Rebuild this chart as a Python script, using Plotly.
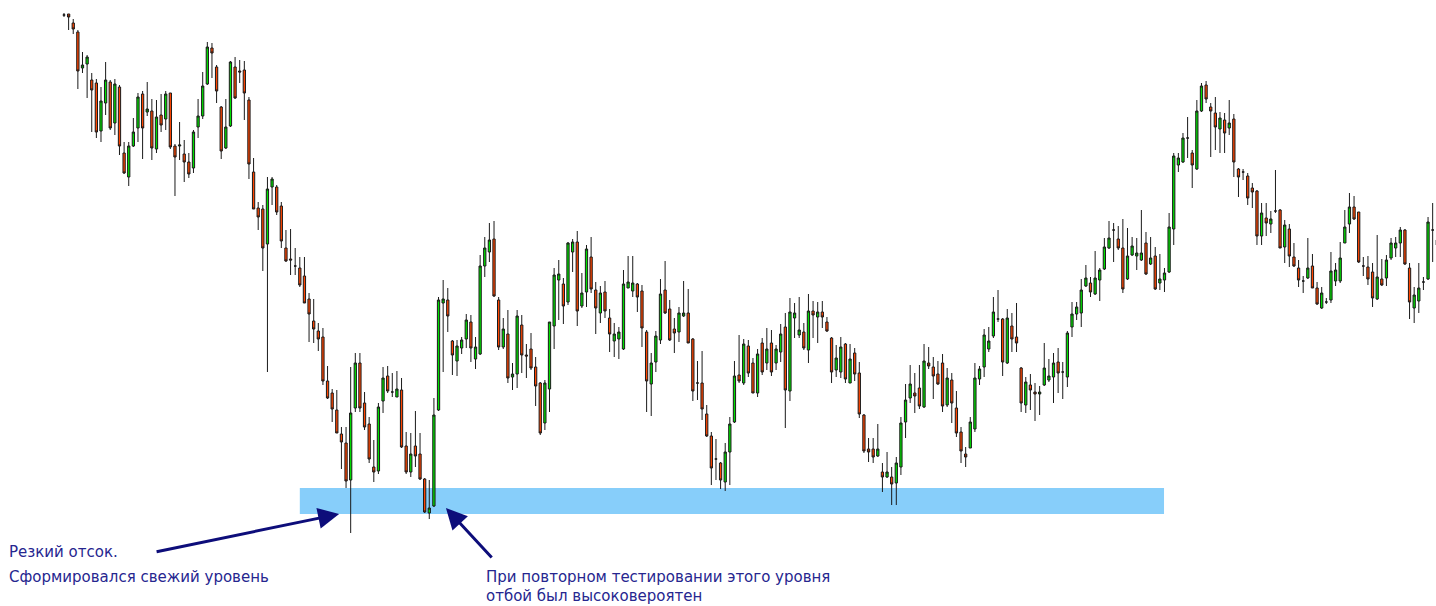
import plotly.graph_objects as go

# ---- candle data (price units, one value per bar) ----
open_ = [
    585, 586, 577, 568, 532, 536, 520, 517, 469, 497,
    518, 477, 513, 447, 423, 454, 472, 506, 488, 489,
    451, 485, 481, 507, 454, 454, 446, 438, 432, 473,
    484, 516, 552, 533, 493, 452, 474, 533, 529, 530,
    500, 428, 392, 391, 356, 413, 413, 394, 352, 341,
    334, 332, 324, 301, 279, 269, 263, 219, 207, 190,
    166, 157, 120, 192, 237, 197, 176, 133, 129, 199,
    224, 208, 203, 210, 154, 128, 154, 146, 121, 87,
    94, 190, 297, 300, 259, 239, 252, 261, 278, 241,
    246, 334, 348, 361, 300, 253, 266, 223, 226, 275,
    245, 251, 233, 217, 177, 211, 274, 320, 316, 298,
    348, 358, 294, 308, 343, 310, 287, 308, 282, 259,
    261, 251, 312, 309, 316, 309, 268, 216, 238, 260,
    310, 291, 271, 268, 284, 287, 261, 217, 217, 186,
    164, 141, 137, 118, 148, 178, 225, 217, 254, 237,
    207, 257, 237, 257, 237, 248, 273, 209, 282, 265,
    268, 250, 289, 283, 288, 278, 262, 230, 228, 256,
    217, 247, 227, 185, 151, 151, 144, 128, 123, 123,
    117, 133, 178, 202, 207, 212, 193, 237, 233, 226,
    237, 195, 220, 192, 168, 146, 152, 171, 221, 233,
    251, 264, 281, 281, 237, 274, 263, 232, 195, 215,
    208, 206, 215, 220, 223, 238, 228, 223, 273, 286,
    287, 314, 317, 306, 320, 331, 352, 370, 361, 352,
    321, 345, 344, 340, 357, 336, 344, 317, 320, 328,
    371, 435, 438, 462, 447, 431, 489, 515, 493, 487,
    471, 480, 472, 481, 431, 428, 424, 412, 409, 364,
    382, 376, 389, 390, 353, 371, 343, 332, 319, 322,
    334, 312, 292, 298, 300, 319, 319, 357, 376, 393,
    388, 334, 333, 328, 301, 321, 322, 342, 352, 357,
    370, 332, 292, 299, 318, 321, 370, 360,
]
high = [
    587, 586, 581, 570, 548, 545, 527, 521, 513, 538,
    520, 521, 515, 458, 458, 482, 507, 509, 518, 501,
    500, 506, 509, 507, 456, 478, 460, 447, 470, 501,
    528, 558, 557, 535, 494, 501, 539, 543, 540, 539,
    503, 442, 398, 395, 423, 423, 415, 398, 370, 371,
    352, 343, 343, 307, 301, 277, 272, 234, 211, 210,
    173, 173, 233, 247, 247, 208, 183, 160, 197, 233,
    234, 227, 229, 222, 168, 167, 189, 167, 122, 120,
    202, 303, 320, 312, 260, 260, 263, 286, 285, 263,
    345, 363, 377, 379, 303, 282, 290, 237, 290, 285,
    256, 267, 243, 218, 220, 278, 332, 340, 322, 358,
    361, 369, 327, 355, 363, 318, 314, 319, 291, 277,
    273, 330, 344, 344, 317, 315, 270, 247, 269, 321,
    339, 300, 282, 293, 319, 311, 262, 239, 249, 195,
    168, 161, 138, 157, 183, 239, 265, 261, 260, 242,
    251, 262, 272, 270, 255, 276, 287, 302, 297, 303,
    277, 306, 299, 298, 299, 283, 263, 255, 263, 257,
    256, 252, 238, 186, 162, 162, 176, 137, 148, 133,
    143, 183, 216, 235, 227, 235, 256, 253, 243, 239,
    246, 232, 227, 209, 173, 153, 183, 237, 234, 271,
    273, 303, 310, 282, 291, 287, 297, 233, 223, 226,
    217, 214, 257, 241, 247, 252, 238, 269, 298, 298,
    321, 335, 323, 349, 332, 362, 379, 377, 374, 381,
    372, 363, 362, 390, 368, 363, 353, 346, 332, 387,
    447, 447, 467, 483, 450, 500, 517, 519, 497, 503,
    488, 487, 500, 486, 432, 431, 427, 417, 410, 397,
    397, 389, 430, 391, 380, 376, 357, 340, 324, 362,
    346, 318, 313, 302, 348, 337, 358, 390, 407, 404,
    388, 343, 344, 337, 365, 341, 345, 362, 363, 373,
    371, 337, 313, 337, 323, 383, 397, 367,
]
low = [
    583, 570, 566, 511, 527, 502, 468, 462, 458, 485,
    470, 465, 445, 426, 414, 453, 458, 441, 484, 440,
    447, 468, 470, 451, 404, 440, 418, 422, 427, 462,
    481, 515, 522, 497, 441, 451, 473, 501, 517, 480,
    421, 391, 370, 329, 228, 395, 385, 352, 338, 325,
    325, 313, 297, 258, 257, 249, 215, 201, 178, 167,
    131, 112, 67, 188, 188, 170, 137, 118, 126, 187,
    207, 203, 203, 152, 126, 123, 133, 120, 87, 81,
    93, 189, 228, 268, 225, 224, 246, 252, 238, 231,
    245, 323, 338, 303, 250, 251, 217, 210, 212, 227,
    222, 230, 194, 165, 170, 188, 251, 280, 276, 295,
    328, 274, 292, 293, 307, 266, 277, 282, 248, 243,
    241, 250, 312, 303, 288, 253, 188, 184, 228, 256,
    286, 259, 247, 258, 283, 257, 199, 200, 180, 163,
    115, 120, 111, 109, 115, 177, 217, 215, 223, 207,
    203, 225, 230, 224, 230, 238, 172, 199, 262, 262,
    250, 237, 262, 257, 272, 268, 217, 223, 222, 217,
    217, 219, 182, 147, 138, 137, 143, 108, 122, 95,
    95, 125, 162, 197, 187, 191, 192, 231, 201, 215,
    188, 193, 177, 163, 137, 133, 152, 168, 215, 223,
    248, 262, 278, 224, 236, 248, 248, 188, 187, 190,
    179, 185, 214, 218, 197, 207, 201, 213, 263, 280,
    273, 313, 303, 305, 299, 330, 351, 338, 350, 307,
    320, 344, 330, 339, 325, 335, 310, 310, 308, 327,
    355, 428, 437, 442, 412, 430, 488, 497, 443, 450,
    447, 447, 465, 423, 403, 420, 395, 392, 355, 355,
    364, 367, 387, 352, 337, 333, 333, 313, 307, 321,
    312, 295, 291, 296, 297, 314, 317, 357, 367, 380,
    337, 324, 315, 293, 300, 314, 314, 340, 343, 343,
    335, 281, 277, 287, 310, 320, 338, 337,
]
close = [
    585, 583, 571, 529, 535, 543, 510, 468, 499, 520,
    472, 516, 454, 427, 454, 468, 503, 472, 491, 452,
    483, 475, 506, 453, 443, 455, 438, 426, 468, 484,
    514, 553, 547, 509, 449, 473, 538, 502, 528, 507,
    436, 391, 383, 352, 411, 421, 388, 359, 339, 340,
    334, 315, 297, 286, 271, 261, 219, 202, 191, 167,
    158, 119, 187, 237, 192, 173, 141, 128, 193, 222,
    209, 208, 211, 153, 128, 146, 144, 121, 88, 92,
    185, 300, 301, 284, 245, 254, 260, 280, 252, 253,
    334, 352, 360, 304, 253, 271, 222, 226, 284, 245,
    244, 232, 214, 167, 217, 278, 325, 326, 294, 357,
    358, 289, 307, 351, 311, 292, 307, 289, 266, 266,
    268, 316, 318, 317, 303, 272, 219, 237, 264, 306,
    287, 260, 267, 287, 287, 257, 209, 217, 191, 164,
    132, 141, 120, 148, 176, 224, 219, 256, 227, 207,
    246, 228, 251, 228, 251, 266, 210, 288, 287, 270,
    252, 289, 285, 288, 283, 269, 228, 242, 253, 221,
    241, 226, 186, 149, 148, 143, 151, 123, 128, 116,
    137, 177, 200, 216, 204, 194, 239, 234, 224, 216,
    194, 222, 197, 167, 149, 143, 178, 222, 231, 265,
    259, 288, 281, 238, 282, 261, 257, 197, 218, 210,
    206, 208, 232, 224, 237, 227, 228, 267, 286, 293,
    310, 322, 308, 322, 330, 353, 362, 370, 352, 311,
    344, 354, 347, 347, 326, 342, 311, 321, 327, 373,
    444, 442, 462, 462, 435, 489, 514, 501, 489, 473,
    482, 467, 477, 438, 423, 428, 402, 408, 364, 387,
    377, 381, 389, 352, 375, 344, 334, 320, 319, 332,
    312, 296, 307, 298, 329, 330, 342, 373, 393, 381,
    338, 334, 321, 302, 323, 315, 340, 357, 357, 370,
    336, 298, 305, 312, 318, 378, 370, 355,
]
bars = list(range(len(close)))

# ---- support zone and annotation anchors (data units) ----
zone_low, zone_high = 86, 112
zone_start, zone_end = 51.0, 237.9

arrow1_tail = (19.7, 48)
arrow1_head = (59.5, 86)
arrow2_tail = (92.8, 41)
arrow2_head = (82.6, 92)

text1_lines = ["Резкий отсок.", "Сформировался свежий уровень"]
text1_pos = (-12.1, [48, 23])
text2_lines = ["При повторном тестировании этого уровня", "отбой был высоковероятен"]
text2_pos = (91.1, [23, 4])

ARROW_COLOR = "#0d0d7a"
TEXT_COLOR = "#26268f"

fig = go.Figure()
fig.add_trace(go.Candlestick(
    x=bars, open=open_, high=high, low=low, close=close,
    increasing=dict(fillcolor="#00e000", line=dict(color="#1a1a1a", width=1)),
    decreasing=dict(fillcolor="#ff4500", line=dict(color="#1a1a1a", width=1)),
    whiskerwidth=0, hoverinfo="skip", showlegend=False,
))

fig.add_shape(type="rect", xref="x", yref="y",
              x0=zone_start, x1=zone_end, y0=zone_low, y1=zone_high,
              fillcolor="#87cefa", line=dict(width=0), layer="below")

for head, tail in [(arrow1_head, arrow1_tail), (arrow2_head, arrow2_tail)]:
    fig.add_annotation(x=head[0], y=head[1], ax=tail[0], ay=tail[1],
                       xref="x", yref="y", axref="x", ayref="y",
                       text="", showarrow=True, arrowhead=2, arrowsize=1.4,
                       arrowwidth=3, arrowcolor=ARROW_COLOR, standoff=0)

for lines, (tx, tys) in [(text1_lines, text1_pos), (text2_lines, text2_pos)]:
    for line, ty in zip(lines, tys):
        fig.add_annotation(x=tx, y=ty, xref="x", yref="y", text=line,
                           showarrow=False, xanchor="left", yanchor="middle",
                           borderpad=0,
                           font=dict(family="DejaVu Sans", size=15, color=TEXT_COLOR))

fig.update_layout(
    width=1436, height=606,
    margin=dict(l=0, r=0, t=0, b=0),
    paper_bgcolor="white", plot_bgcolor="white",
    xaxis=dict(range=[-13.84, 296.72], visible=False, rangeslider=dict(visible=False)),
    yaxis=dict(range=[-6, 600], visible=False),
    boxgap=0.3,
)

fig.write_html("out.html", config={"displayModeBar": False},
               post_script="document.body.style.margin='0';document.body.style.overflow='hidden';")
